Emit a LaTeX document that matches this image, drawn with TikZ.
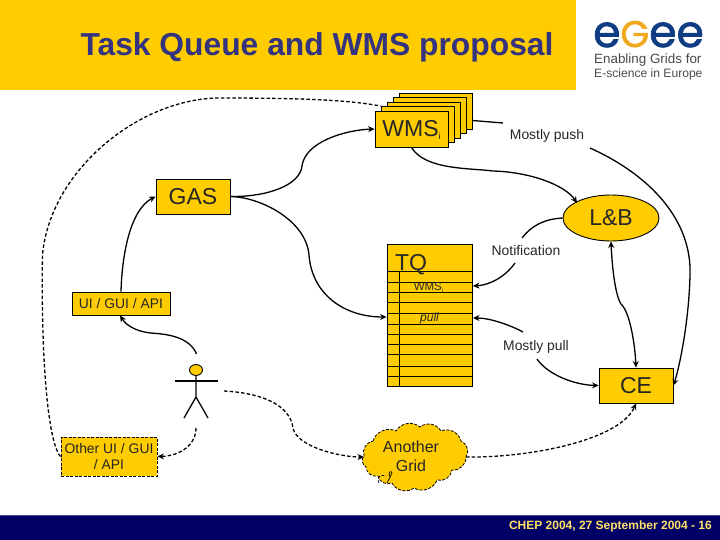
\documentclass[tikz,border=0pt]{standalone}
\usepackage{fontspec}
\setmainfont{Liberation Sans}
\newfontfamily\logofont{Poppins}[FakeBold=1.6]
\usetikzlibrary{arrows.meta,shapes.geometric}
\definecolor{egeeyellow}{HTML}{FFCC00}
\definecolor{egeenavy}{HTML}{000066}
\definecolor{titleblue}{HTML}{333380}
\definecolor{logoblue}{HTML}{0F3C82}
\definecolor{logoorange}{HTML}{F0A81E}
\definecolor{logogray}{HTML}{4A4A4A}
\tikzset{
  box/.style={draw=black,fill=egeeyellow,line width=0.9pt,inner sep=0pt,align=center,text=black!85},
  bigtxt/.style={font=\fontsize{23}{26}\selectfont},
  lab/.style={inner sep=0pt,align=center,text=black!85,font=\fontsize{13.9}{16}\selectfont},
  conn/.style={line width=1.3pt,-{Stealth[length=6.5pt,width=6pt]}},
  plain/.style={line width=1.3pt},
  dconn/.style={line width=1.3pt,dash pattern=on 3.5pt off 2.2pt,-{Stealth[length=6.5pt,width=6pt]}},
  dplain/.style={line width=1.3pt,dash pattern=on 3.5pt off 2.2pt},
  row/.style={line width=0.8pt,draw=black}
}
\begin{document}
\begin{tikzpicture}[x=1pt,y=-1pt]
\useasboundingbox (0,0) rectangle (720,540);
\fill[white] (0,0) rectangle (720,540);
% header and footer
\fill[egeeyellow] (0,0) rectangle (576,90);
\fill[egeenavy] (0,515.5) rectangle (720,540);
\draw[line width=0.8pt,color=egeenavy!70!white] (0,515.5) -- (720,515.5);
\node[inner sep=0pt,text=titleblue,font=\bfseries\fontsize{31.8}{35}\selectfont] (title) at (317,47) {Task Queue and WMS proposal};
\node[inner sep=0pt,anchor=east,text=egeeyellow!60!white,font=\bfseries\fontsize{12}{14}\selectfont] (foot) at (712,526.5) {CHEP 2004, 27 September 2004 - 16};
% logo
\node[inner sep=0pt,anchor=base west,font=\logofont\fontsize{44}{46}\selectfont] (logoword) at (593,47) {\textcolor{logoblue}{e}\textcolor{logoorange}{\fontsize{37}{40}\selectfont G}\textcolor{logoblue}{ee}};
\node[inner sep=0pt,anchor=west,text=logogray,font=\fontsize{13.4}{15}\selectfont] (logo1) at (594,60) {Enabling Grids for};
\node[inner sep=0pt,anchor=west,text=logogray,font=\fontsize{12.1}{14}\selectfont] (logo2) at (594,74) {E-science in Europe};
% WMS stack
\foreach \n/\dx in {5/24,4/18,3/12,2/6}{
  \pgfmathsetmacro{\cx}{411.5+\dx}
  \pgfmathsetmacro{\cy}{129-\dx*0.75}
  \node[box,minimum width=73pt,minimum height=36pt] (w\n) at (\cx,\cy) {};
}
\node[box,bigtxt,minimum width=73pt,minimum height=36pt] (wms) at (411.5,129) {WMS\smash{\raisebox{-3pt}{\fontsize{9}{9}\selectfont i}}};
\node[box,bigtxt,minimum width=74pt,minimum height=35pt] (gas) at (193,196.5) {GAS};
\node[draw=black,fill=egeeyellow,line width=0.9pt,ellipse,inner sep=0pt,minimum width=96pt,minimum height=46pt,bigtxt,text=black!85] (lb) at (611,218) {L\&B};
\node[box,font=\fontsize{13.9}{16}\selectfont,minimum width=98pt,minimum height=23pt] (ui) at (121,303.5) {UI / GUI / API};
\node[box,bigtxt,minimum width=74pt,minimum height=35pt] (ce) at (636,385.5) {CE};
\node[box,dash pattern=on 3pt off 1.5pt,font=\fontsize{13.9}{16.5}\selectfont,minimum width=96pt,minimum height=39pt] (other) at (109,456.5) {Other UI / GUI\\/ API};
% TQ table
\node[draw=black,fill=egeeyellow,line width=0.9pt,inner sep=0pt,minimum width=85.5pt,minimum height=142pt] (tq) at (429.75,315) {};
\foreach \yy in {271,282,292,302,313,324,334,344,354,366,376}{
  \draw[row] (tq.west |- 0,\yy) -- (tq.east |- 0,\yy);
}
\draw[row] (399,271) -- (399,386);
\node[inner sep=0pt,bigtxt,text=black!85] (tqt) at (411,264.5) {TQ};
\node[inner sep=0pt,text=black!85,font=\fontsize{11.5}{13}\selectfont] (wmsi) at (428.5,287) {WMS\smash{\raisebox{-2pt}{\fontsize{6}{6}\selectfont i}}};
\node[inner sep=0pt,text=black!85,font=\itshape\fontsize{12}{14}\selectfont] (pull) at (429.5,318) {pull};
% labels
\node[lab] (push) at (547,136) {Mostly push};
\node[lab] (notif) at (526,251) {Notification};
\node[lab] (mpull) at (536,346.5) {Mostly pull};
% cloud
\coordinate (c0) at (373,441);
\coordinate (c1) at (396,431);
\coordinate (c2) at (420,427);
\coordinate (c3) at (441,431);
\coordinate (c4) at (461,441);
\coordinate (c5) at (466,457);
\coordinate (c6) at (452,470);
\coordinate (c7) at (437,480);
\coordinate (c8) at (414,488);
\coordinate (c9) at (392,483);
\coordinate (c10) at (378,476);
\coordinate (c11) at (366,467);
\coordinate (c12) at (364,456);
\draw[black,fill=egeeyellow,line width=0.8pt,dash pattern=on 3pt off 1.5pt]
  (c0) to[bend left=50] (c1) to[bend left=50] (c2) to[bend left=50] (c3) to[bend left=50] (c4)
  to[bend left=50] (c5) to[bend left=50] (c6) to[bend left=50] (c7) to[bend left=50] (c8)
  to[bend left=50] (c9) to[bend left=50] (c10) to[bend left=50] (c11) to[bend left=50] (c12) to[bend left=50] (c0);
\draw[line width=0.7pt,dash pattern=on 3pt off 1.5pt] (379,483) .. controls (376,477) and (381,474) .. (386,476);
\draw[line width=0.7pt] (387,483) .. controls (389,479) and (391,476) .. (392,473) .. controls (392,470) and (387,472) .. (390,477);
\node[inner sep=0pt,text=black!85,align=center,font=\fontsize{16}{19}\selectfont] (cloud) at (411,456.5) {Another\\Grid};
\coordinate (cloudW) at (364,457);
\coordinate (cloudE) at (466,457);
% actor
\draw[line width=0.9pt,fill=egeeyellow] (196,370) ellipse [x radius=6.5pt,y radius=5.5pt];
\coordinate (head) at (196,375.5);
\coordinate (hip) at (196,397);
\coordinate (footL) at (184,418);
\coordinate (footR) at (208,418);
\draw[line width=1.3pt] (head) -- (hip) (footL) -- (hip) -- (footR);
\draw[line width=2pt] (175,380.5) -- (218,380.5);
\coordinate (actorT) at (196.5,354);
\coordinate (actorB) at (196,428);
\coordinate (actorR) at (224,391);
\coordinate (lbNW) at (577,203);
% solid connectors
\draw[conn] (gas.east) .. controls (268,197) and (300,185) .. (302,166) .. controls (305,142) and (345,130) .. (wms.west);
\draw[conn] (gas.east) .. controls (260,197) and (306,220) .. (309,255) .. controls (312,295) and (345,317) .. (tq.west |- 0,317);
\draw[conn] (ui.north) .. controls (122,255) and (130,210) .. (gas.west);
\draw[conn] (wms.south) .. controls (425,170) and (470,168) .. (493,171) .. controls (530,172) and (565,185) .. (lbNW);
\draw[conn] (actorT) .. controls (190,338) and (170,334) .. (150,333) .. controls (135,331) and (126,325) .. (ui.south -| 120,0);
% Mostly push
\coordinate (pushA) at (503,123);
\coordinate (pushB) at (590,148);
\draw[plain] (w5.east |- 0,120.5) -- (pushA);
\draw[conn] (pushB) .. controls (650,175) and (692,220) .. (690,275) .. controls (689,320) and (680,365) .. (ce.east);
% notification
\coordinate (nA) at (522,238);
\coordinate (nB) at (515,263);
\draw[plain] (lb.west) .. controls (545,219) and (532,225) .. (nA);
\draw[conn] (nB) .. controls (505,277) and (490,285) .. (tq.east |- 0,286);
% L&B <-> CE
\draw[line width=1.3pt,{Stealth[length=6.5pt,width=6pt]}-{Stealth[length=6.5pt,width=6pt]}] (lb.south) .. controls (612,265) and (615,295) .. (621,304) .. controls (630,312) and (635,345) .. (ce.north);
% mostly pull
\coordinate (mA) at (523,332);
\coordinate (mB) at (537,359);
\draw[conn] (mA) .. controls (510,325) and (490,318) .. (tq.east |- 0,318);
\draw[conn] (mB) .. controls (548,375) and (575,385) .. (ce.west);
% dashed
\draw[dconn] (actorB) .. controls (196,445) and (180,456) .. (other.east);
\draw[dconn] (actorR) .. controls (262,393) and (290,405) .. (293,428) .. controls (297,447) and (340,457) .. (cloudW);
\draw[dconn] (cloudE) .. controls (530,458) and (620,440) .. (ce.south);
\draw[dplain] (other.west) .. controls (46,440) and (41,340) .. (42.5,255) .. controls (50,170) and (140,98) .. (220,98) .. controls (300,98) and (350,100) .. (w2.north west);
\end{tikzpicture}
\end{document}
